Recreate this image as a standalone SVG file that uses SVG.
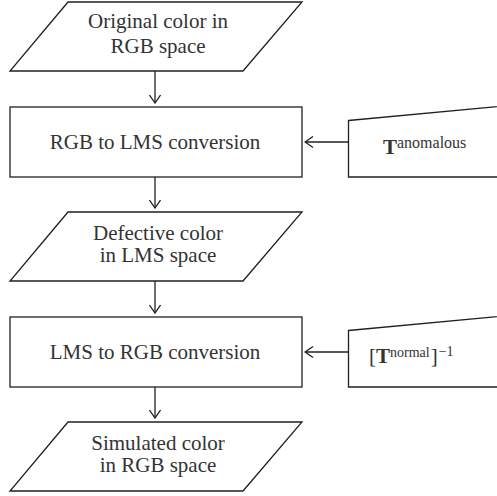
<svg xmlns="http://www.w3.org/2000/svg" width="497" height="496" viewBox="0 0 497 496">
<defs>
<style>
.s{fill:#fff;stroke:#231f20;stroke-width:1.3}
.t{font-family:"Liberation Serif","Times New Roman",serif;font-size:21px;fill:#333;text-anchor:middle}
.m{font-family:"Liberation Serif","Times New Roman",serif;fill:#333}
.c{stroke:#231f20;stroke-width:1.3;fill:none}
</style>
<marker id="ah" viewBox="0 0 10 12" refX="9" refY="6" markerWidth="10" markerHeight="12" markerUnits="userSpaceOnUse" orient="auto">
<path d="M1,0.5 L9,6 L1,11.5" fill="none" stroke="#231f20" stroke-width="1.3"/>
</marker>
</defs>
<g id="connectors">
<line class="c" x1="155" y1="71" x2="155" y2="103" marker-end="url(#ah)"/>
<line class="c" x1="155" y1="177" x2="155" y2="208" marker-end="url(#ah)"/>
<line class="c" x1="155" y1="281" x2="155" y2="313" marker-end="url(#ah)"/>
<line class="c" x1="155" y1="387" x2="155" y2="418" marker-end="url(#ah)"/>
<line class="c" x1="348" y1="142" x2="305" y2="142" marker-end="url(#ah)"/>
<line class="c" x1="348" y1="352" x2="305" y2="352" marker-end="url(#ah)"/>
</g>
<g id="n1">
<polygon class="s" points="68,2 302,2 243,71 10,71"/>
<text class="t" x="158" y="28">Original color in</text>
<text class="t" x="158" y="53">RGB space</text>
</g>
<g id="n2">
<rect class="s" x="10" y="107" width="292" height="70"/>
<text class="t" x="155" y="149">RGB to LMS conversion</text>
</g>
<g id="n3">
<polygon class="s" points="68,212 302,212 243,281 10,281"/>
<text class="t" x="158" y="240">Defective color</text>
<text class="t" x="158" y="262">in LMS space</text>
</g>
<g id="n4">
<rect class="s" x="10" y="317" width="292" height="70"/>
<text class="t" x="155" y="359">LMS to RGB conversion</text>
</g>
<g id="n5">
<polygon class="s" points="68,422 302,422 243,491 10,491"/>
<text class="t" x="158" y="450">Simulated color</text>
<text class="t" x="158" y="472">in RGB space</text>
</g>
<g id="n6">
<polygon class="s" points="348.5,120.5 520,104.5 520,177 348.5,177"/>
<text class="m" x="383" y="154"><tspan font-size="21" font-weight="bold">T</tspan><tspan font-size="16" dy="-6">anomalous</tspan></text>
</g>
<g id="n7">
<polygon class="s" points="348.5,330.5 520,314.5 520,387 348.5,387"/>
<text class="m" x="369" y="363"><tspan font-size="21">[</tspan><tspan font-size="21" font-weight="bold">T</tspan><tspan font-size="14" dy="-6">normal</tspan><tspan font-size="21" dy="6" dx="1">]</tspan><tspan font-size="14" dy="-7" dx="1">−1</tspan></text>
</g>
</svg>
